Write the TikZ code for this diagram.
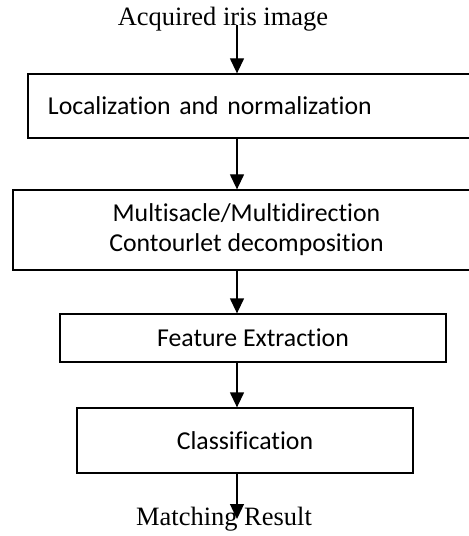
\documentclass[tikz,border=0pt]{standalone}
\usepackage{fontspec}
\setmainfont{Liberation Serif}
\newfontfamily\boxfont[Ligatures=NoCommon]{Carlito}
\usetikzlibrary{arrows.meta}
\tikzset{
  stage/.style={draw, line width=1.1pt, rectangle, inner sep=0pt,
    font=\boxfont\fontsize{22}{25.5}\selectfont},
  flow/.style={line width=1.1pt, -{Triangle[length=0.45cm,width=0.42cm]}},
  ends/.style={inner sep=0pt, font=\fontsize{22.6}{26}\selectfont}
}
\begin{document}
\begin{tikzpicture}[x=0.03cm,y=-0.03cm]
\useasboundingbox (0,0) rectangle (468,536);
\coordinate (axis) at (237,0);

\node[ends] (acq) at (223,19) {Acquired iris image};
\node[stage, minimum width=13.56cm, minimum height=1.92cm,
  text width=12.36cm, inner xsep=0.6cm, align=left]
  (loc) at (254,106) {Localization and normalization};
\node[stage, minimum width=14.01cm, minimum height=2.4cm, align=center]
  (ctl) at (246.5,230) {Multisacle/Multidirection\\Contourlet decomposition};
\node[stage, minimum width=11.58cm, minimum height=1.44cm]
  (feat) at (253,338) {Feature Extraction};
\node[stage, minimum width=10.08cm, minimum height=1.95cm]
  (cls) at (245,440.5) {Classification};
\node[ends] (res) at (224,519) {Matching Result};

\draw[flow] (acq.base -| axis) -- (loc.north -| axis);
\draw[flow] (loc.south -| axis) -- (ctl.north -| axis);
\draw[flow] (ctl.south -| axis) -- (feat.north -| axis);
\draw[flow] (feat.south -| axis) -- (cls.north -| axis);
\draw[flow] (cls.south -| axis) -- (res.center -| axis);
\end{tikzpicture}
\end{document}
